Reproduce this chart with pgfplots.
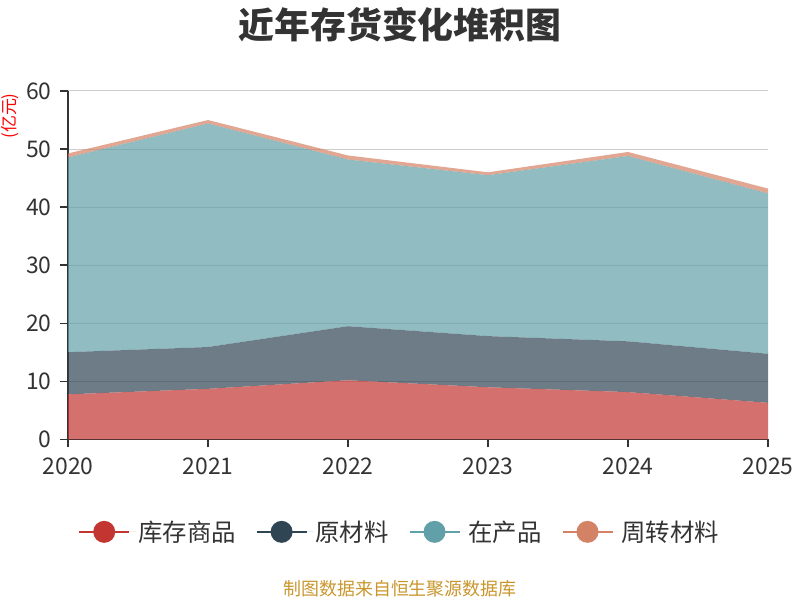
\documentclass[border=0pt]{standalone}
\usepackage{fontspec}
\setmainfont{Noto Sans CJK SC}
\usepackage{pgfplots}
\pgfplotsset{compat=1.18}

\definecolor{c1}{HTML}{C23531}
\definecolor{c2}{HTML}{2F4554}
\definecolor{c3}{HTML}{61A0A8}
\definecolor{c4}{HTML}{D48265}
\definecolor{gridc}{HTML}{CCCCCC}
\definecolor{axc}{HTML}{333333}
\definecolor{foot}{HTML}{C9962C}

% legend marker: short line with a disc in the middle, plus a little room after it
\newcommand{\legmark}[1]{\path (0bp,0bp) -- (57bp,0bp); \draw[#1, opacity=1, line width=1.5bp] (0bp,0bp) -- (50bp,0bp); \fill[#1, fill opacity=1] (25bp,0bp) circle (11bp);}

\begin{document}
\begin{tikzpicture}[x=1bp,y=1bp]
\useasboundingbox (0,0) rectangle (800,600);
\node[font=\fontsize{17}{20}\selectfont, text=red, rotate=90, inner sep=0pt] at (10.5,484) {(亿元)};
\node[font=\fontsize{36}{42}\selectfont\bfseries, text=axc] at (400,575) {近年存货变化堆积图};
\node[font=\fontsize{18}{21}\selectfont, text=foot] at (400,11) {制图数据来自恒生聚源数据库};

\begin{axis}[
  at={(68bp,160.5bp)}, anchor=south west,
  scale only axis, width=700bp, height=348.5bp,
  xmin=2020, xmax=2025, ymin=0, ymax=60,
  xtick={2020,2021,2022,2023,2024,2025},
  ytick={0,10,20,30,40,50,60},
  axis lines*=left,
  axis line style={axc, line width=1.5bp},
  tick align=outside, major tick length=8bp,
  tick style={axc, line width=1.5bp},
  ymajorgrids, major grid style={gridc, line width=1bp},
  /pgf/number format/assume math mode=true,
  /pgf/number format/1000 sep={},
  tick label style={font=\fontsize{23}{27}\selectfont, text=axc},
  xticklabel style={yshift=-7bp},
  yticklabel style={xshift=-5bp},
  stack plots=y,
  legend columns=4,
  legend style={at={(0.474,-0.265)}, anchor=center, draw=none, fill=none,
    font=\fontsize{24.5}{28}\selectfont, text=axc,
    /tikz/every even column/.append style={column sep=18bp}},
]
\addplot[fill=c1, fill opacity=0.7, draw=none, legend image code/.code={\legmark{c1}}]
  coordinates {(2020,7.77) (2021,8.72) (2022,10.2) (2023,8.99) (2024,8.16) (2025,6.31)} \closedcycle;
\addlegendentry{库存商品}
\addplot[fill=c2, fill opacity=0.7, draw=none, legend image code/.code={\legmark{c2}}]
  coordinates {(2020,7.26) (2021,7.20) (2022,9.30) (2023,8.81) (2024,8.74) (2025,8.44)} \closedcycle;
\addlegendentry{原材料}
\addplot[fill=c3, fill opacity=0.7, draw=none, legend image code/.code={\legmark{c3}}]
  coordinates {(2020,33.53) (2021,38.48) (2022,28.70) (2023,27.70) (2024,31.90) (2025,27.61)} \closedcycle;
\addlegendentry{在产品}
\addplot[fill=c4, fill opacity=0.7, draw=none, legend image code/.code={\legmark{c4}}]
  coordinates {(2020,0.69) (2021,0.60) (2022,0.70) (2023,0.50) (2024,0.70) (2025,0.84)} \closedcycle;
\addlegendentry{周转材料}
\end{axis}
\end{tikzpicture}
\end{document}
